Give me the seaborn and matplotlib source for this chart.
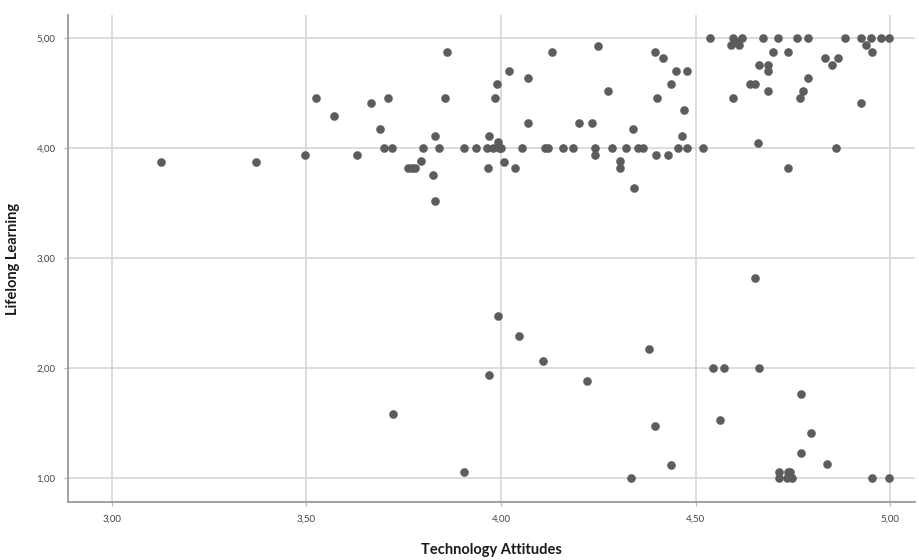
import numpy as np
import pandas as pd
import matplotlib
matplotlib.use('Agg')
from matplotlib import pyplot as plt
import seaborn as sns

# values
tech_attitudes = [
    3.125, 3.37, 3.495, 3.525, 3.57, 3.63, 3.665, 3.69, 3.71, 3.70, 3.72,
    3.76, 3.77, 3.78, 3.795, 3.80, 3.825, 3.83, 3.83, 3.84, 3.855, 3.86,
    3.905, 3.935, 3.965, 3.98, 3.995, 4.00, 3.97, 3.993, 3.99, 3.985, 4.02, 4.07, 4.07,
    4.008, 3.967, 4.037, 4.053, 4.113, 4.12, 4.16, 4.185, 4.13, 4.20, 4.235, 4.25, 4.275,
    4.242, 4.242, 4.286, 4.32, 4.306, 4.306, 4.34, 4.353, 4.366, 4.343, 4.397, 4.40,
    4.398, 4.417, 4.45, 4.477, 4.437, 4.47, 4.465, 4.43, 4.456, 4.477, 4.518,
    4.538, 4.59, 4.597, 4.606, 4.612, 4.619, 4.674, 4.713, 4.76, 4.79, 4.884, 4.925,
    4.95, 4.976, 4.996, 4.938, 4.953, 4.70, 4.738, 4.664, 4.687, 4.686, 4.64, 4.653,
    4.686, 4.597, 4.833, 4.852, 4.867, 4.79, 4.775, 4.769, 4.925, 4.661, 4.86, 4.738,
    3.993, 4.046, 4.107, 3.969, 4.222, 3.723, 3.906, 4.654, 4.38, 4.544, 4.573, 4.664,
    4.772, 4.563, 4.397, 4.796, 4.77, 4.436, 4.837, 4.334, 4.715, 4.715, 4.738, 4.743,
    4.747, 4.735, 4.953, 4.997,
]
lifelong_learning = [
    3.875, 3.875, 3.94, 4.46, 4.29, 3.94, 4.41, 4.17, 4.46, 4.00, 4.00,
    3.82, 3.82, 3.82, 3.88, 4.00, 3.76, 3.52, 4.11, 4.00, 4.46, 4.875,
    4.00, 4.00, 4.00, 4.00, 4.00, 4.00, 4.11, 4.06, 4.58, 4.46, 4.70, 4.64, 4.23,
    3.875, 3.82, 3.82, 4.00, 4.00, 4.00, 4.00, 4.00, 4.875, 4.23, 4.23, 4.93, 4.52,
    4.00, 3.94, 4.00, 4.00, 3.88, 3.82, 4.17, 4.00, 4.00, 3.64, 4.875, 4.46,
    3.94, 4.82, 4.70, 4.70, 4.58, 4.35, 4.11, 3.94, 4.00, 4.00, 4.00,
    5.00, 4.94, 5.00, 4.97, 4.94, 5.00, 5.00, 5.00, 5.00, 5.00, 5.00, 5.00,
    5.00, 5.00, 5.00, 4.94, 4.875, 4.875, 4.875, 4.76, 4.76, 4.70, 4.58, 4.58,
    4.52, 4.46, 4.82, 4.76, 4.82, 4.64, 4.52, 4.46, 4.41, 4.05, 4.00, 3.82,
    2.47, 2.29, 2.06, 1.94, 1.88, 1.585, 1.057, 2.82, 2.17, 2.00, 2.00, 2.00,
    1.76, 1.53, 1.47, 1.41, 1.23, 1.12, 1.13, 1.00, 1.057, 1.00, 1.057, 1.057,
    1.00, 1.00, 1.00, 1.00,
]
x_ticks = [3.0, 3.5, 4.0, 4.5, 5.0]
x_tick_labels = ['3,00', '3,50', '4,00', '4,50', '5,00']
y_ticks = [1.0, 2.0, 3.0, 4.0, 5.0]
y_tick_labels = ['1,00', '2,00', '3,00', '4,00', '5,00']

df = pd.DataFrame({'Technology Attitudes': tech_attitudes,
                   'Lifelong Learning': lifelong_learning})

sns.set_style('white')
plt.rcParams['font.family'] = ['Lato', 'DejaVu Sans']

fig = plt.figure(figsize=(9.19, 5.6), dpi=100)
ax = fig.add_axes([0.074, 0.1036, 0.9216, 0.8694])

sns.scatterplot(data=df, x='Technology Attitudes', y='Lifelong Learning',
                color='#5c5c5c', edgecolor='#555555', linewidth=0.3, s=34, ax=ax, zorder=3)

ax.set_xlim(2.887, 5.064)
ax.set_ylim(0.782, 5.21)
ax.set_xticks(x_ticks)
ax.set_xticklabels(x_tick_labels)
ax.set_yticks(y_ticks)
ax.set_yticklabels(y_tick_labels)
ax.grid(True, color='#d9d9d9', linewidth=1.3, zorder=0)
ax.set_axisbelow(True)

for side in ['top', 'right']:
    ax.spines[side].set_visible(False)
for side in ['left', 'bottom']:
    ax.spines[side].set_color('#9a9a9a')
    ax.spines[side].set_linewidth(1.3)

ax.tick_params(axis='both', which='both', length=3, width=0.8, color='#bbbbbb',
               labelsize=7, labelcolor='#444444', pad=6, direction='out',
               bottom=True, left=True)

ax.set_xlabel('Technology Attitudes', fontsize=10.5, fontweight='bold',
              color='#1a1a1a', labelpad=14)
ax.set_ylabel('Lifelong Learning', fontsize=10.5, fontweight='bold',
              color='#1a1a1a', labelpad=12)

fig.savefig('out.png', dpi=100)
